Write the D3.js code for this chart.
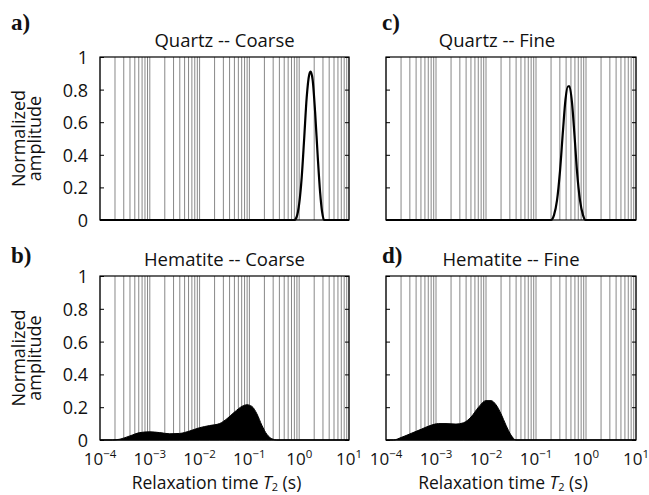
<!DOCTYPE html>
<html>
<head>
<meta charset="utf-8">
<script src="https://cdn.jsdelivr.net/npm/d3@7"></script>
<style>
	body { margin: 0; background: #fff; }
	svg { display: block; }
	text { font-family: "Open Sans", sans-serif; fill: #111; }
	.panel-letter { font-family: "Liberation Serif", "Times New Roman", serif; font-weight: bold; }
</style>
</head>
<body>
<svg width="649" height="495"></svg>
<script>
// T2 distributions: x = log10(T2 / s), y = normalized amplitude
const quartzCoarseLogT = [-4, -0.10, -0.05, 0.00, 0.05, 0.10, 0.15, 0.20, 0.23, 0.27, 0.32, 0.37, 0.42, 0.46, 0.50, 1];
const quartzCoarseAmp  = [0, 0, 0.02, 0.10, 0.26, 0.50, 0.75, 0.89, 0.91, 0.86, 0.66, 0.40, 0.17, 0.05, 0, 0];

const quartzFineLogT = [-4, -0.70, -0.64, -0.58, -0.52, -0.46, -0.41, -0.36, -0.33, -0.28, -0.23, -0.18, -0.12, -0.06, -0.01, 1];
const quartzFineAmp  = [0, 0, 0.03, 0.12, 0.30, 0.55, 0.74, 0.82, 0.82, 0.72, 0.52, 0.30, 0.12, 0.03, 0, 0];

const hematiteCoarseLogT = [-4, -3.75, -3.6, -3.4, -3.2, -3.0, -2.8, -2.6, -2.4, -2.2, -2.0, -1.8, -1.6, -1.45, -1.3, -1.15, -1.05, -0.95, -0.85, -0.75, -0.65, -0.55, -0.45, 1];
const hematiteCoarseAmp  = [0, 0, 0.005, 0.025, 0.045, 0.05, 0.045, 0.038, 0.04, 0.055, 0.075, 0.088, 0.10, 0.13, 0.17, 0.205, 0.215, 0.205, 0.16, 0.09, 0.035, 0.008, 0, 0];

const hematiteFineLogT = [-4, -3.85, -3.7, -3.5, -3.3, -3.1, -2.95, -2.8, -2.6, -2.45, -2.3, -2.15, -2.0, -1.9, -1.8, -1.7, -1.6, -1.5, -1.4, 1];
const hematiteFineAmp  = [0, 0, 0.015, 0.04, 0.065, 0.09, 0.10, 0.10, 0.097, 0.105, 0.14, 0.20, 0.24, 0.24, 0.215, 0.16, 0.09, 0.03, 0, 0];

const xDomain = [1e-4, 10];
const xTickExp = [-4, -3, -2, -1, 0, 1];
const yTicks = [0, 0.2, 0.4, 0.6, 0.8, 1];

const panels = [
	{ letter: "a)", title: "Quartz -- Coarse", logT: quartzCoarseLogT, amp: quartzCoarseAmp, filled: false, col: 0, row: 0 },
	{ letter: "b)", title: "Hematite -- Coarse", logT: hematiteCoarseLogT, amp: hematiteCoarseAmp, filled: true, col: 0, row: 1 },
	{ letter: "c)", title: "Quartz -- Fine", logT: quartzFineLogT, amp: quartzFineAmp, filled: false, col: 1, row: 0, titleDx: -14 },
	{ letter: "d)", title: "Hematite -- Fine", logT: hematiteFineLogT, amp: hematiteFineAmp, filled: true, col: 1, row: 1 }
];

// layout
const colX = [[100, 349], [386, 636]];
const rowY = [[57, 220], [276, 440]];

const svg = d3.select("svg");

panels.forEach(function(p) {
	const [x0, x1] = colX[p.col];
	const [y0, y1] = rowY[p.row];

	const x = d3.scaleLog().domain(xDomain).range([x0, x1]);
	const y = d3.scaleLinear().domain([0, 1]).range([y1, y0]);

	const g = svg.append("g");

	// log grid (1..9 per decade)
	g.append("g")
		.selectAll("line")
		.data(x.ticks())
		.enter().append("line")
		.attr("x1", d => x(d)).attr("x2", d => x(d))
		.attr("y1", y0).attr("y2", y1)
		.attr("stroke", "#888")
		.attr("stroke-width", 1);

	const pts = p.logT.map((l, i) => ({ t: Math.pow(10, l), a: p.amp[i] }));

	if (p.filled) {
		const area = d3.area()
			.x(d => x(d.t))
			.y0(y(0))
			.y1(d => y(d.a))
			.curve(d3.curveMonotoneX);
		g.append("path")
			.datum(pts)
			.attr("d", area)
			.attr("fill", "#000")
			.attr("stroke", "#000")
			.attr("stroke-width", 1);
	} else {
		const line = d3.line()
			.x(d => x(d.t))
			.y(d => y(d.a))
			.curve(d3.curveMonotoneX);
		g.append("path")
			.datum(pts)
			.attr("d", line)
			.attr("fill", "none")
			.attr("stroke", "#000")
			.attr("stroke-width", 2.2);
	}

	// box
	g.append("rect")
		.attr("x", x0).attr("y", y0)
		.attr("width", x1 - x0).attr("height", y1 - y0)
		.attr("fill", "none")
		.attr("stroke", "#000")
		.attr("stroke-width", 1.2);

	// inward y ticks on both sides
	const yAxisL = d3.axisLeft(y).tickValues(yTicks).tickSizeInner(-4).tickSizeOuter(0)
		.tickFormat(p.col === 0 ? d3.format("") : "");
	const yAxisR = d3.axisRight(y).tickValues(yTicks).tickSizeInner(-4).tickSizeOuter(0).tickFormat("");

	const la = g.append("g").attr("transform", `translate(${x0},0)`).call(yAxisL);
	la.select(".domain").remove();
	la.selectAll("line").attr("stroke", "#000");
	la.selectAll("text")
		.attr("x", -12)
		.attr("dy", "0.36em")
		.style("font-family", "Open Sans, sans-serif")
		.style("font-size", "18px")
		.attr("fill", "#111");

	const ra = g.append("g").attr("transform", `translate(${x1},0)`).call(yAxisR);
	ra.select(".domain").remove();
	ra.selectAll("line").attr("stroke", "#000");

	// titles and letters
	g.append("text")
		.attr("x", (x0 + x1) / 2 + (p.titleDx || 0))
		.attr("y", y0 - 10)
		.attr("text-anchor", "middle")
		.style("font-size", "18.5px")
		.text(p.title);

	g.append("text")
		.attr("class", "panel-letter")
		.attr("x", p.col === 0 ? 11 : 382)
		.attr("y", y0 - (p.row === 0 ? 27 : 13))
		.style("font-size", "23px")
		.text(p.letter);

	if (p.col === 0) {
		const cy = (y0 + y1) / 2;
		g.append("text")
			.attr("transform", `translate(25,${cy}) rotate(-90)`)
			.attr("text-anchor", "middle")
			.style("font-size", "18px")
			.text("Normalized");
		g.append("text")
			.attr("transform", `translate(41,${cy}) rotate(-90)`)
			.attr("text-anchor", "middle")
			.style("font-size", "18px")
			.text("amplitude");
	}

	if (p.row === 1) {
		const xl = g.append("g")
			.selectAll("text")
			.data(xTickExp)
			.enter().append("text")
			.attr("x", d => x(Math.pow(10, d)))
			.attr("y", y1 + 25)
			.attr("text-anchor", "middle")
			.style("font-size", "17px");
		xl.append("tspan").text("10");
		xl.append("tspan")
			.attr("dy", -7)
			.style("font-size", "11.5px")
			.text(d => d < 0 ? "\u2212" + Math.abs(d) : String(d));

		const xt = g.append("text")
			.attr("x", (x0 + x1) / 2 - 8)
			.attr("y", y1 + 49)
			.attr("text-anchor", "middle")
			.style("font-size", "17.5px");
		xt.append("tspan").text("Relaxation time ");
		xt.append("tspan").style("font-style", "italic").text("T");
		xt.append("tspan").attr("dy", 2).style("font-size", "11px").text("2");
		xt.append("tspan").attr("dy", -2).text(" (s)");
	}
});
</script>
</body>
</html>
